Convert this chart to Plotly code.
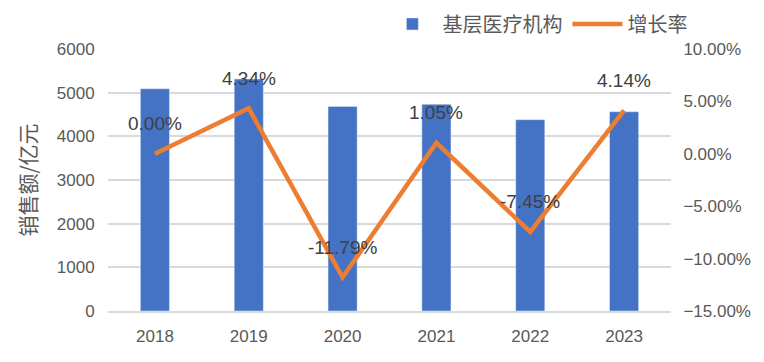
import plotly.graph_objects as go

years = ["2018", "2019", "2020", "2021", "2022", "2023"]
sales = [5090, 5311, 4685, 4734, 4381, 4563]
growth = [0.0, 0.0434, -0.1179, 0.0105, -0.0745, 0.0414]
growth_labels = ["0.00%", "4.34%", "-11.79%", "1.05%", "-7.45%", "4.14%"]

FONT = "Liberation Sans, Arial, sans-serif"
CJK = "Noto Sans CJK SC, sans-serif"
GREY = "#595959"

fig = go.Figure()
fig.add_trace(go.Bar(x=years, y=sales, name="基层医疗机构", marker_color="#4472C4",
                     yaxis="y"))
fig.add_trace(go.Scatter(x=years, y=growth, name="增长率", mode="lines",
                         line=dict(color="#ED7D31", width=4.5), yaxis="y2"))

# category axis: annotations positioned by category index
for i, (y, t) in enumerate(zip(growth, growth_labels)):
    fig.add_annotation(x=i, y=y, xref="x", yref="y2", text=t, showarrow=False,
                       yshift=30, font=dict(family=FONT, size=19, color="#404040"))

fig.update_layout(
    width=764, height=362,
    margin=dict(l=99.5, r=100.5, t=41.3, b=59.3, autoexpand=False),
    paper_bgcolor="white", plot_bgcolor="white",
    bargap=0.69,
    font=dict(family=FONT, color=GREY),
    xaxis=dict(type="category", range=[-0.5, len(years) - 0.5], showgrid=False,
               showline=True, linecolor="#d9d9d9",
               linewidth=1.5, ticks="outside", ticklen=9, tickcolor="rgba(0,0,0,0)",
               tickfont=dict(size=17, color=GREY), automargin=False),
    yaxis=dict(range=[0, 6000], dtick=1000, showgrid=True, gridcolor="#d9d9d9",
               gridwidth=1.5, zeroline=False, ticks="outside", ticklen=9,
               tickcolor="rgba(0,0,0,0)", tickfont=dict(size=17, color=GREY),
               automargin=False,
               title=dict(text="销售额/亿元", font=dict(family=CJK, size=21, color=GREY),
                          standoff=14)),
    yaxis2=dict(range=[-0.15, 0.10], dtick=0.05, tickformat=".2%", overlaying="y",
                side="right", showgrid=False, zeroline=False, ticks="outside",
                ticklen=8, tickcolor="rgba(0,0,0,0)", automargin=False,
                tickfont=dict(size=17, color=GREY)),
    legend=dict(orientation="h", x=1.038, xanchor="right", y=1.17, yanchor="top",
                font=dict(family=CJK, size=20, color=GREY), itemwidth=50,
                bgcolor="rgba(0,0,0,0)"),
)

fig.write_html("out.html")
